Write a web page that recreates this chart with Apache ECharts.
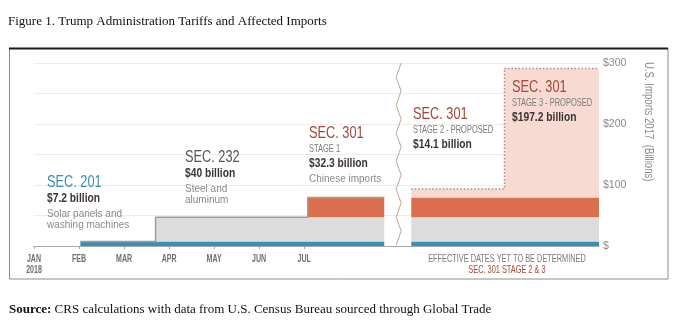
<!DOCTYPE html>
<html>
<head>
<meta charset="utf-8">
<script src="https://cdn.jsdelivr.net/npm/echarts@6/dist/echarts.min.js"></script>
<style>
  html, body { margin: 0; padding: 0; background: #fff; }
  #chart { width: 679px; height: 333px; }
</style>
</head>
<body>
<div id="chart"></div>
<script>
// Tariff actions and the 2017 U.S. imports they cover ($ billions)
const tariffNames = ['SEC. 201', 'SEC. 232', 'SEC. 301', 'SEC. 301', 'SEC. 301'];
const stageNames = ['', '', 'STAGE 1', 'STAGE 2 - PROPOSED', 'STAGE 3 - PROPOSED'];
const importValues = [7.2, 40, 32.3, 14.1, 197.2];
const productNotes = [['Solar panels and', 'washing machines'], ['Steel and', 'aluminum'], ['Chinese imports'], [], []];
// Effective date of each action, in months after Jan 1, 2018 (stages 2 & 3 undetermined)
const effectiveMonth = [1.03, 2.7, 6.08, null, null];
const monthLabels = ['JAN', 'FEB', 'MAR', 'APR', 'MAY', 'JUN', 'JUL'];
const yearLabel = '2018';
const undatedLabels = ['EFFECTIVE DATES YET TO BE DETERMINED', 'SEC. 301 STAGE 2 & 3'];
const yTicks = [0, 100, 200, 300];

// Horizontal layout of the time axis (month units)
const LEFT_END = 7.78;
const BREAK_AT = 8.1;
const RIGHT_START = 8.38;
const STAGE3_START = 10.45;
const AXIS_MAX = 12.55;
const RIGHT_MID = (RIGHT_START + AXIS_MAX) / 2 + 0.04;

const COLORS = ['#3b8fb6', '#dcdcdc', '#d96f4f', '#f7dbd3', '#f7dbd3'];
const TITLE_COLORS = ['#3b8fb6', '#555555', '#a3473a', '#a3473a', '#a3473a'];
const SANS = '"Liberation Sans", Arial, sans-serif';
const SERIF = '"Liberation Serif", "Times New Roman", serif';

// Running totals give each band's floor and ceiling
const floors = [];
const ceilings = [];
importValues.reduce((acc, v, i) => { floors[i] = acc; ceilings[i] = acc + v; return acc + v; }, 0);

// Bands: enacted actions drawn from their effective date, plus the undated panel
const bands = [];
importValues.forEach((v, i) => {
  if (effectiveMonth[i] !== null) {
    bands.push({ value: [effectiveMonth[i], LEFT_END, floors[i], ceilings[i]], itemStyle: { color: COLORS[i] } });
  }
  const start = i === 4 ? STAGE3_START : RIGHT_START;
  bands.push({ value: [start, AXIS_MAX, floors[i], ceilings[i]], itemStyle: { color: COLORS[i] } });
});

// Step outline along the top of the enacted stack
const outline = [];
[0, 1, 2].forEach(i => {
  if (i > 0) outline.push([effectiveMonth[i], ceilings[i - 1]]);
  outline.push([effectiveMonth[i], ceilings[i]]);
});
outline.push([LEFT_END, ceilings[2]]);

// Dotted outline around the proposed stages
const proposedOutline = [
  [RIGHT_START, ceilings[3]], [STAGE3_START, ceilings[3]],
  [STAGE3_START, ceilings[4]], [AXIS_MAX, ceilings[4]]
];

function renderBand(params, api) {
  const a = api.coord([api.value(0), api.value(3)]);
  const b = api.coord([api.value(1), api.value(2)]);
  return {
    type: 'rect',
    shape: { x: a[0], y: a[1], width: b[0] - a[0], height: b[1] - a[1] },
    style: { fill: api.visual('color') }
  };
}

// Zig-zag axis break between the dated and undated panels
function renderBreak(params, api) {
  const top = api.coord([BREAK_AT, 300]);
  const bottom = api.coord([BREAK_AT, 0]);
  const pts = [];
  const step = 14;
  let k = 0;
  for (let y = top[1]; y <= bottom[1] + 0.1; y += step, k++) {
    pts.push([top[0] + (k % 2 === 0 ? 2.5 : -2.5), y]);
  }
  return {
    type: 'polyline',
    shape: { points: pts },
    style: { stroke: '#b5aa95', lineWidth: 1, fill: null }
  };
}

// Condensed month / panel labels under the time axis
const xLabelData = monthLabels.map((m, i) => [i, i]).concat([[RIGHT_MID, -1]]);
function renderXLabel(params, api) {
  const idx = api.value(1);
  const p = api.coord([api.value(0), 0]);
  const base = { type: 'text', x: p[0], scaleX: 0.64 };
  const font = '11.5px ' + SANS;
  if (idx < 0) {
    return {
      type: 'group',
      children: [
        Object.assign({}, base, { y: p[1] + 12.5, style: { text: undatedLabels[0], font: font, fill: '#787878', align: 'center', verticalAlign: 'middle' } }),
        Object.assign({}, base, { y: p[1] + 24, style: { text: undatedLabels[1], font: font, fill: '#a3473a', align: 'center', verticalAlign: 'middle' } })
      ]
    };
  }
  const mfont = 'bold 11px ' + SANS;
  const children = [
    Object.assign({}, base, { y: p[1] + 12.5, style: { text: monthLabels[idx], font: mfont, fill: '#6e6e6e', align: 'center', verticalAlign: 'middle' } })
  ];
  if (idx === 0) {
    children.push(Object.assign({}, base, { y: p[1] + 23.5, style: { text: yearLabel, font: mfont, fill: '#6e6e6e', align: 'center', verticalAlign: 'middle' } }));
  }
  return { type: 'group', children: children };
}

// Annotation text blocks
const notePos = [[47, 182], [185, 157], [309, 133], [413, 114], [512, 87]];
const graphics = [];
importValues.forEach((v, i) => {
  const [x, y] = notePos[i];
  let cy = y;
  graphics.push({ type: 'text', z: 100, x: x, y: cy, scaleX: 0.75, style: { text: tariffNames[i], font: '17px ' + SANS, fill: TITLE_COLORS[i], verticalAlign: 'middle' } });
  cy += 15.5;
  if (stageNames[i]) {
    graphics.push({ type: 'text', z: 100, x: x, y: cy, scaleX: 0.68, style: { text: stageNames[i], font: '11px ' + SANS, fill: '#7a7a7a', verticalAlign: 'middle' } });
    cy += 15;
  } else {
    cy += 1;
  }
  graphics.push({ type: 'text', z: 100, x: x, y: cy, scaleX: 0.79, style: { text: '$' + v + ' billion', font: 'bold 13px ' + SANS, fill: '#3b3433', verticalAlign: 'middle' } });
  cy += 16;
  productNotes[i].forEach(line => {
    graphics.push({ type: 'text', z: 100, x: x, y: cy, style: { text: line, font: '10px ' + SANS, fill: '#8a8a8a', verticalAlign: 'middle' } });
    cy += 11;
  });
});

graphics.push(
  { type: 'text', z: 100, x: 8, y: 22, style: { text: 'Figure 1. Trump Administration Tariffs and Affected Imports', font: '13px ' + SERIF, fill: '#111', verticalAlign: 'middle' } },
  { type: 'rect', z: 100, shape: { x: 9.5, y: 48.5, width: 658.5, height: 230.5 }, style: { fill: null, stroke: '#8c8c8c', lineWidth: 1 } },
  { type: 'line', z: 101, shape: { x1: 9, y1: 48.5, x2: 668, y2: 48.5 }, style: { stroke: '#1a1a1a', lineWidth: 2 } },
  { type: 'text', z: 100, x: 648, y: 62, rotation: -Math.PI / 2, scaleX: 0.8, style: { text: 'U.S. Imports 2017  (Billions)', font: '12px ' + SANS, fill: '#8a8a8a', verticalAlign: 'middle', align: 'left' } },
  { type: 'text', z: 100, x: 9, y: 310, style: {
      text: '{b|Source:} CRS calculations with data from U.S. Census Bureau sourced through Global Trade',
      font: '13px ' + SERIF, fill: '#111', verticalAlign: 'middle',
      rich: { b: { font: 'bold 13px ' + SERIF, fill: '#111' } }
  } }
);

const chart = echarts.init(document.getElementById('chart'), null, { renderer: 'canvas' });
chart.setOption({
  animation: false,
  grid: { left: 34, right: 80, top: 63, bottom: 87 },
  xAxis: {
    type: 'value', min: 0, max: AXIS_MAX,
    splitLine: { show: false },
    axisLine: { show: true, lineStyle: { color: '#a8a8a8', width: 1 } },
    axisTick: { show: true, customValues: monthLabels.map((m, i) => i), length: 3, lineStyle: { color: '#a8a8a8' } },
    axisLabel: { show: false }
  },
  yAxis: {
    type: 'value', position: 'right', min: 0, max: 300, interval: 50,
    axisLine: { show: false }, axisTick: { show: false },
    splitLine: { show: true, lineStyle: { color: '#ececec', width: 1 } },
    axisLabel: {
      margin: 4, fontFamily: SANS, fontSize: 10.5, color: '#8a8a8a',
      formatter: v => yTicks.includes(v) ? (v === 0 ? '$' : '$' + v) : ''
    }
  },
  series: [
    { type: 'custom', name: 'bands', renderItem: renderBand, encode: { x: [0, 1], y: [2, 3] }, data: bands, z: 2 },
    { type: 'line', name: 'outline', data: outline, symbol: 'none', lineStyle: { color: '#a69c89', width: 1.5 }, z: 3 },
    { type: 'line', name: 'proposed', data: proposedOutline, symbol: 'none', lineStyle: { color: '#a88d82', width: 1.5, type: [1.5, 2] }, z: 3 },
    { type: 'custom', name: 'break', renderItem: renderBreak, data: [[BREAK_AT, 0]], z: 3 },
    { type: 'custom', name: 'xLabels', renderItem: renderXLabel, encode: { x: 0 }, data: xLabelData, z: 4, clip: false }
  ],
  graphic: graphics
});
</script>
</body>
</html>
